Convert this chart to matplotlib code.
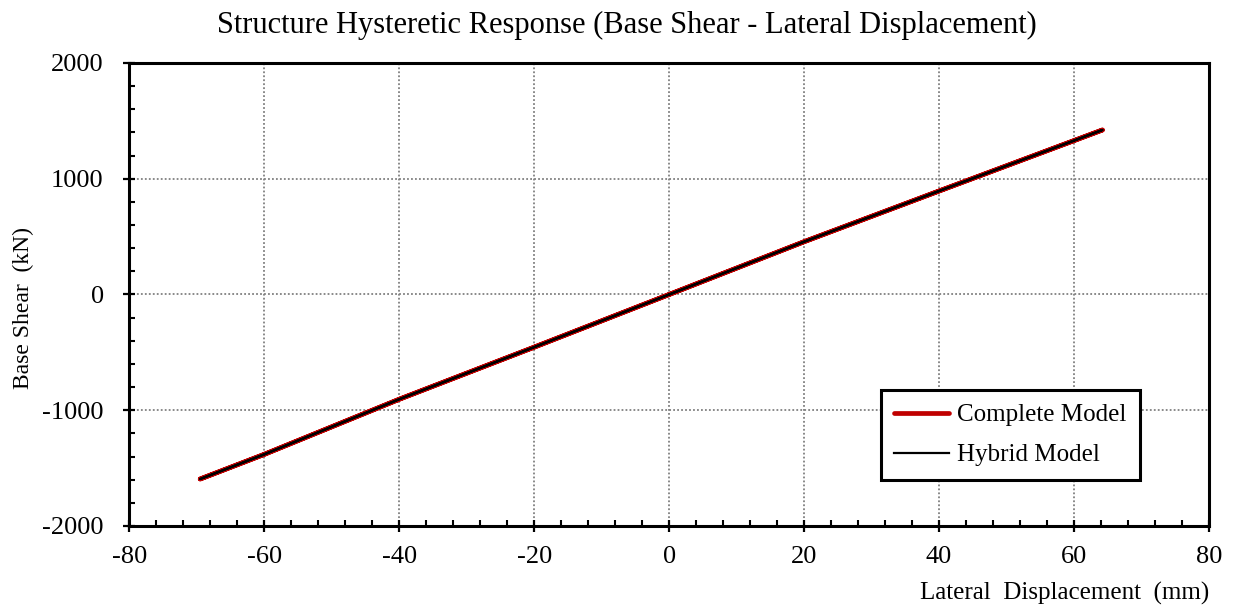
import matplotlib.pyplot as plt
from matplotlib.ticker import MultipleLocator

# values (cyclic response overlaps on one line)
disp_complete = [0.0, 20.0, 40.0, 64.2, 40.0, 20.0, 0.0, -20.0, -40.0, -60.0, -69.5, -60.0, -40.0, -20.0, 0.0]
shear_complete = [0.0, 456.0, 894.0, 1421.0, 894.0, 456.0, 0.0, -455.0, -905.0, -1381.0, -1594.0, -1381.0, -905.0, -455.0, 0.0]
disp_hybrid = [0.0, 20.0, 40.0, 64.2, 40.0, 20.0, 0.0, -20.0, -40.0, -60.0, -69.5, -60.0, -40.0, -20.0, 0.0]
shear_hybrid = [0.0, 456.0, 894.0, 1421.0, 894.0, 456.0, 0.0, -455.0, -905.0, -1381.0, -1594.0, -1381.0, -905.0, -455.0, 0.0]

plt.rcParams["font.family"] = ["Liberation Serif", "DejaVu Serif"]
plt.rcParams["axes.unicode_minus"] = False

fig = plt.figure(figsize=(12.39, 6.09), dpi=100)
ax = fig.add_axes([0.1044, 0.1363, 0.8714, 0.7603])

ax.plot(disp_complete, shear_complete, color="#C00000", lw=3.4, label="Complete Model",
        solid_capstyle="round", zorder=3)
ax.plot(disp_hybrid, shear_hybrid, color="black", lw=1.6, label="Hybrid Model", zorder=4)

ax.set_xlim(-80, 80)
ax.set_ylim(-2000, 2000)
ax.xaxis.set_major_locator(MultipleLocator(20))
ax.xaxis.set_minor_locator(MultipleLocator(4))
ax.yaxis.set_major_locator(MultipleLocator(1000))
ax.yaxis.set_minor_locator(MultipleLocator(200))

ax.grid(True, which="major", color="#808080", lw=1.3, linestyle=(0, (1, 1.2)))
ax.set_axisbelow(True)

for s in ax.spines.values():
    s.set_linewidth(2.2)
ax.tick_params(which="major", direction="inout", length=9, width=1.6, labelsize=19,
               top=False, right=False)
ax.tick_params(axis="x", which="major", pad=10)
ax.tick_params(axis="y", which="major", pad=14)
ax.tick_params(which="minor", direction="in", length=4.5, width=1.5, top=False, right=False)

ax.set_xlabel("Lateral  Displacement  (mm)", fontsize=18, loc="right", labelpad=10)
ax.set_ylabel("Base Shear  (kN)", fontsize=17)
ax.yaxis.set_label_coords(-0.088, 0.471)
fig.text(627 / 1239, 1 - 25 / 609, "Structure Hysteretic Response (Base Shear - Lateral Displacement)",
         ha="center", va="center", fontsize=22)

leg = ax.legend(loc="lower right", bbox_to_anchor=(0.936, 0.099), borderaxespad=0,
                fontsize=18, frameon=True, fancybox=False, framealpha=1, handlelength=2.2,
                borderpad=0.55, labelspacing=0.7, handletextpad=0.3)
leg.get_frame().set_edgecolor("black")
leg.get_frame().set_linewidth(2.2)

fig.savefig("out.png", dpi=100)
